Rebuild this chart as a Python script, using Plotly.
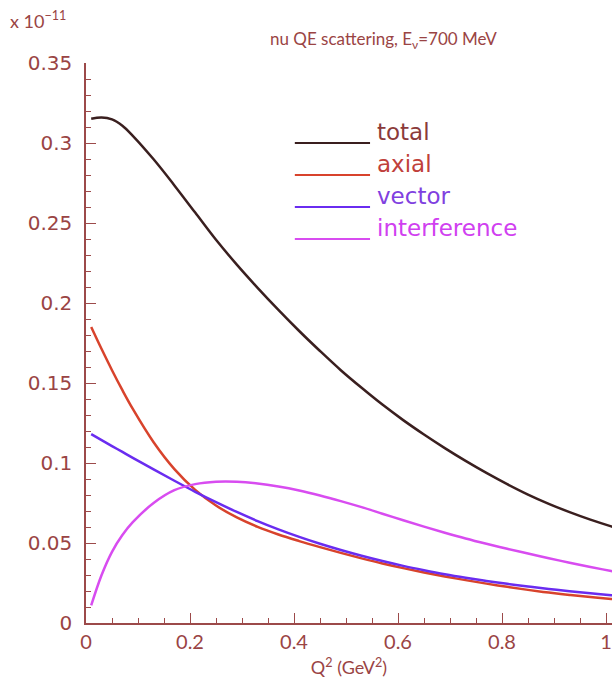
import plotly.graph_objects as go

q2 = [0.01, 0.03, 0.05, 0.07, 0.09, 0.13, 0.17, 0.21, 0.25, 0.29, 0.33, 0.37, 0.41,
      0.45, 0.49, 0.53, 0.57, 0.61, 0.65, 0.69, 0.73, 0.77, 0.81, 0.85, 0.89, 0.93,
      0.97, 1.01, 1.05]
total = [0.3152, 0.3160, 0.3148, 0.3108, 0.3045, 0.2898, 0.2735, 0.2565, 0.2395, 0.2240,
         0.2095, 0.1957, 0.1825, 0.1700, 0.1580, 0.1470, 0.1365, 0.1268, 0.1178, 0.1093,
         0.1013, 0.0938, 0.0868, 0.0803, 0.0745, 0.0693, 0.0646, 0.0604, 0.0566]
axial = [0.1850, 0.1712, 0.1580, 0.1455, 0.1338, 0.1130, 0.0962, 0.0832, 0.0734, 0.0660,
         0.0601, 0.0553, 0.0512, 0.0474, 0.0438, 0.0404, 0.0372, 0.0343, 0.0316, 0.0291,
         0.0268, 0.0246, 0.0226, 0.0207, 0.0190, 0.0175, 0.0162, 0.0150, 0.0139]
vector = [0.1180, 0.1143, 0.1106, 0.1069, 0.1032, 0.0960, 0.0889, 0.0820, 0.0755, 0.0694,
          0.0637, 0.0585, 0.0538, 0.0495, 0.0456, 0.0420, 0.0387, 0.0357, 0.0330, 0.0305,
          0.0283, 0.0263, 0.0245, 0.0228, 0.0213, 0.0199, 0.0186, 0.0174, 0.0163]
interference = [0.0110, 0.0300, 0.0445, 0.0550, 0.0630, 0.0750, 0.0830, 0.0868, 0.0883,
                0.0883, 0.0872, 0.0853, 0.0828, 0.0797, 0.0762, 0.0724, 0.0683, 0.0642,
                0.0602, 0.0564, 0.0528, 0.0495, 0.0464, 0.0434, 0.0405, 0.0377, 0.0350,
                0.0325, 0.0301]

names = ["total", "axial", "vector", "interference"]
series = [total, axial, vector, interference]
line_colors = ["#3a1f1f", "#d8432c", "#6a2cf0", "#d84cf0"]
text_colors = ["#8b3a3a", "#c0403a", "#8040e0", "#d040f0"]

AX = "#9c4a4a"
TXT = "#9a4444"
FONT = "Lato"
WFONT = "DejaVu Sans"

fig = go.Figure()
for n, s, c in zip(names, series, line_colors):
    fig.add_trace(go.Scatter(x=q2, y=s, mode="lines", name=n,
                             line=dict(color=c, width=2.5, shape="spline", smoothing=1),
                             showlegend=False))

# hand-drawn legend (ROOT style)
leg_line_y = [(623 - 143) / 560, (623 - 175) / 560, (623 - 207) / 560, (623 - 239) / 560]
for i, (n, lc, tc) in enumerate(zip(names, line_colors, text_colors)):
    fig.add_shape(type="line", xref="paper", yref="paper",
                  x0=0.397, x1=0.540, y0=leg_line_y[i], y1=leg_line_y[i],
                  line=dict(color=lc, width=2.2))
    fig.add_annotation(xref="paper", yref="paper", x=0.550, y=leg_line_y[i] - 0.008,
                       text=n, showarrow=False, xanchor="left", yanchor="bottom",
                       font=dict(family=WFONT, size=23, color=tc))

fig.add_annotation(xref="paper", yref="paper", x=(383 - 86) / 526, y=(623 - 40) / 560,
                   text="nu QE scattering, E<sub>ν</sub>=700 MeV", showarrow=False,
                   xanchor="center", yanchor="middle",
                   font=dict(family=FONT, size=17, color=TXT))
fig.add_annotation(xref="paper", yref="paper", x=(8 - 86) / 526, y=(623 - 20) / 560,
                   text="x 10<sup>−11</sup>", showarrow=False,
                   xanchor="left", yanchor="middle",
                   font=dict(family=FONT, size=18, color=TXT))

fig.update_layout(
    width=612, height=692,
    margin=dict(l=86, r=0, t=63, b=69),
    paper_bgcolor="white", plot_bgcolor="white",
    xaxis=dict(range=[0, (612 - 86) / 520], showgrid=False, zeroline=False,
               showline=True, linecolor=AX, linewidth=1.5,
               ticks="inside", ticklen=10, tickcolor=AX, tickwidth=1,
               tick0=0, dtick=0.2,
               minor=dict(ticks="inside", ticklen=5, dtick=0.05, tickcolor=AX),
               tickfont=dict(family=FONT, size=20, color=TXT),
               title=dict(text="Q<sup>2</sup> (GeV<sup>2</sup>)",
                          font=dict(family=FONT, size=18, color=TXT), standoff=10)),
    yaxis=dict(range=[0, 0.35], showgrid=False, zeroline=False,
               showline=True, linecolor=AX, linewidth=1.5,
               ticks="inside", ticklen=10, tickcolor=AX, tickwidth=1,
               tick0=0, dtick=0.05, ticklabelstandoff=8,
               minor=dict(ticks="inside", ticklen=5, dtick=0.01, tickcolor=AX),
               tickfont=dict(family=WFONT, size=20, color=TXT)),
)

fig.write_html("out.html")
